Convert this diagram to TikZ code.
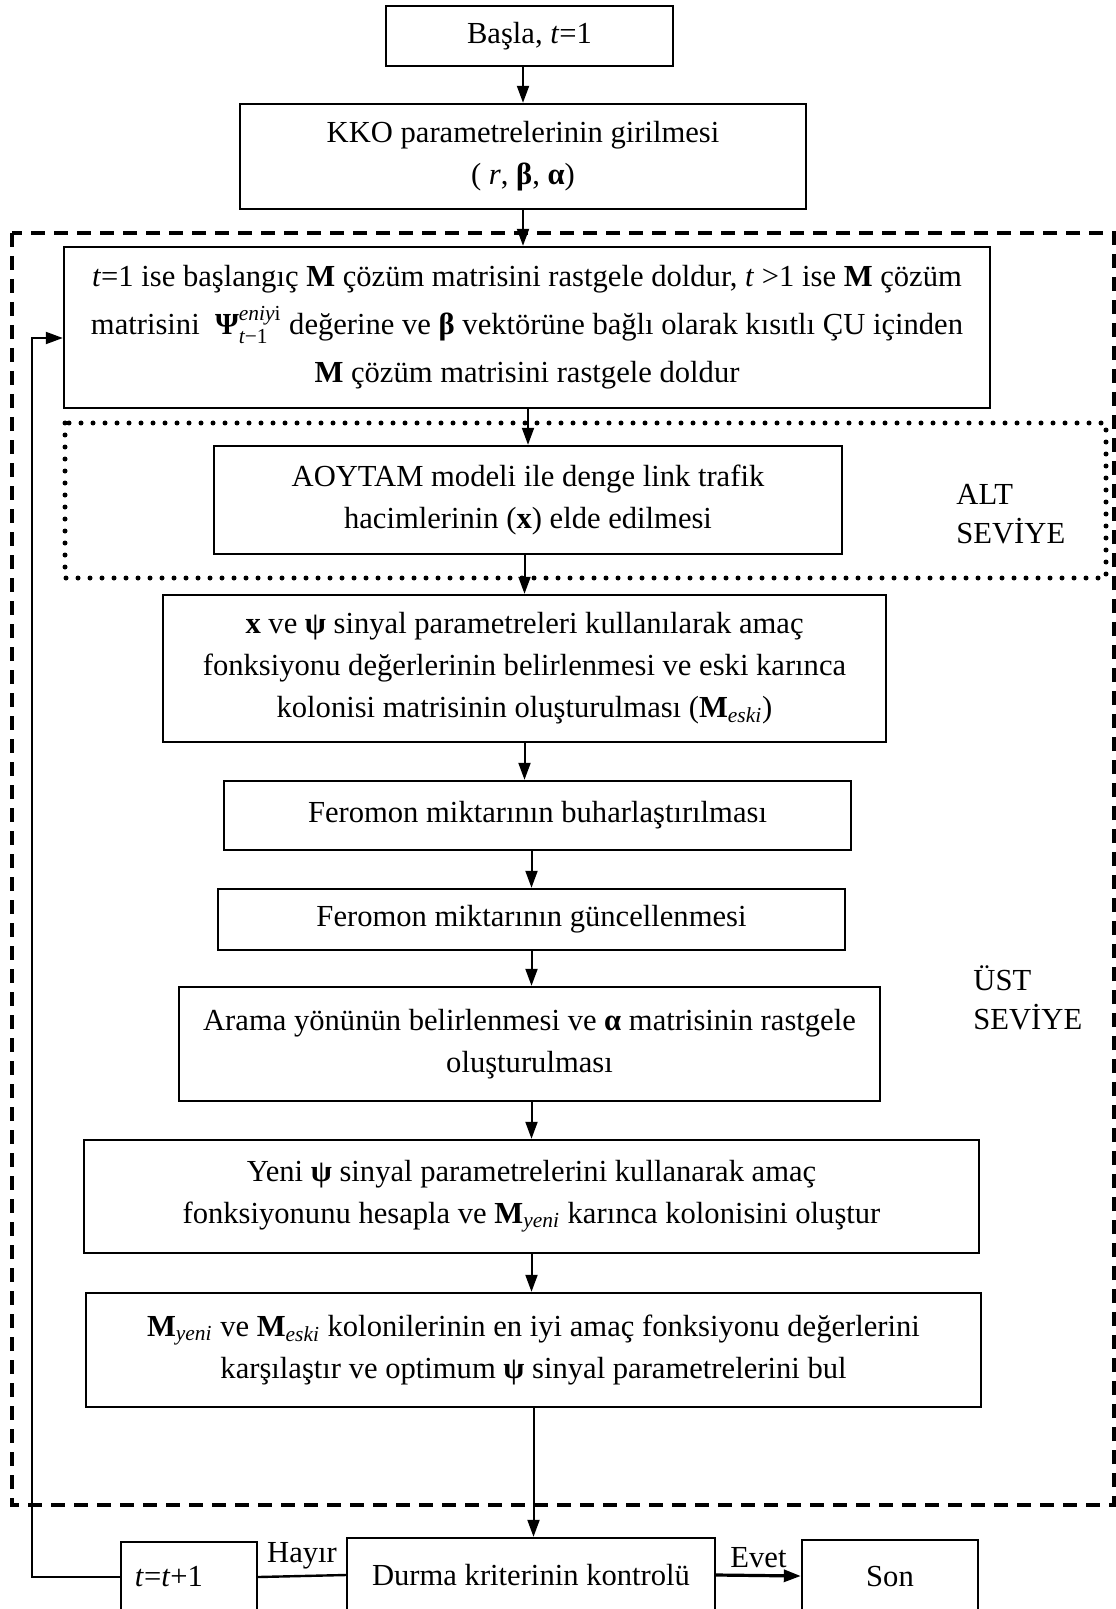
\documentclass[tikz,border=0pt]{standalone}
\usepackage{fontspec}
\usepackage{amsmath}
\setmainfont{Liberation Serif}
\usetikzlibrary{arrows.meta}
\newcommand\fs{\fontsize{15.3}{21}\selectfont}
\begin{document}
\begin{tikzpicture}[x=0.5pt,y=-0.5pt,
  box/.style={draw, line width=1.2pt, inner sep=0pt, align=center, font=\fs},
  arr/.style={line width=1pt, -{Triangle[length=8.5pt,width=6pt]}},
  lvl/.style={anchor=west, align=left, inner sep=0pt, font=\fontsize{15.3}{19.5}\selectfont}]
\useasboundingbox (0,0) rectangle (1115,1609);
% region boxes
\draw[line width=2pt, dash pattern=on 7pt off 4.5pt] (12,233) rectangle (1114,1505);
\draw[line width=2.5pt, line cap=round, dash pattern=on 0pt off 6pt] (65,423) rectangle (1106,578);
% nodes
\node[box, minimum width=143.5pt, minimum height=30pt] (basla) at (529.5,36) {Başla, \textit{t}=1};
\node[box, minimum width=283pt, minimum height=52.5pt] (kko) at (523,156.5) {KKO parametrelerinin girilmesi\\( \textit{r}, \textbf{β}, \textbf{α})};
\node[box, minimum width=463pt, minimum height=80.5pt, font=\fontsize{15.3}{24}\selectfont] (s1) at (527,327.5) {\textit{t}=1 ise başlangıç \textbf{M} çözüm matrisini rastgele doldur, \textit{t} >1 ise \textbf{M} çözüm\\ matrisini \ {\bfseries Ψ}$^{\text{\itshape eniy\upshape i}}_{\text{\itshape t\upshape −1}}$ değerine ve \textbf{β} vektörüne bağlı olarak kısıtlı ÇU içinden\\ \textbf{M} çözüm matrisini rastgele doldur};
\node[box, minimum width=314pt, minimum height=54pt] (aoy) at (528,500) {AOYTAM modeli ile denge link trafik\\hacimlerinin (\textbf{x}) elde edilmesi};
\node[lvl] (alt) at (956,514) {ALT\\SEVİYE};
\node[box, minimum width=361.5pt, minimum height=73.5pt] (xpsi) at (524.5,668.5) {\textbf{x} ve \textbf{ψ} sinyal parametreleri kullanılarak amaç\\fonksiyonu değerlerinin belirlenmesi ve eski karınca\\kolonisi matrisinin oluşturulması (\textbf{M}\textsubscript{\itshape eski})};
\node[box, minimum width=313.5pt, minimum height=34.5pt] (ferb) at (537.5,815.5) {Feromon miktarının buharlaştırılması};
\node[box, minimum width=313.5pt, minimum height=30.5pt] (ferg) at (531.5,919.5) {Feromon miktarının güncellenmesi};
\node[box, minimum width=350.5pt, minimum height=57pt] (arama) at (529.5,1044) {Arama yönünün belirlenmesi ve \textbf{α} matrisinin rastgele\\oluşturulması};
\node[lvl] (ust) at (973,998) {ÜST\\SEVİYE};
\node[box, minimum width=447.5pt, minimum height=56.5pt] (yeni) at (531.5,1196.5) {Yeni \textbf{ψ} sinyal parametrelerini kullanarak amaç\\fonksiyonunu hesapla ve \textbf{M}\textsubscript{\itshape yeni} karınca kolonisini oluştur};
\node[box, minimum width=447.5pt, minimum height=57pt] (myeni) at (533.5,1350) {\textbf{M}\textsubscript{\itshape yeni} ve \textbf{M}\textsubscript{\itshape eski} kolonilerinin en iyi amaç fonksiyonu değerlerini\\karşılaştır ve optimum \textbf{ψ} sinyal parametrelerini bul};
\node[box, minimum width=68pt, minimum height=35pt] (tt) at (189,1577) {\textit{t}=\textit{t}+1\hspace*{20pt}};
\node[box, minimum width=184pt, minimum height=37pt] (durma) at (531,1575) {Durma kriterinin kontrolü};
\node[box, minimum width=88pt, minimum height=36pt] (son) at (890,1576) {Son};
% connectors
\draw[arr] (basla.south -| kko.north) -- (kko.north);
\draw[arr] (kko.south) -- (kko.south |- s1.north);
\draw[arr] (aoy.north |- s1.south) -- (aoy.north);
\draw[arr] (xpsi.north |- aoy.south) -- (xpsi.north);
\draw[arr] (xpsi.south) -- (xpsi.south |- ferb.north);
\draw[arr] (ferg.north |- ferb.south) -- (ferg.north);
\draw[arr] (ferg.south) -- (ferg.south |- arama.north);
\draw[arr] (yeni.north |- arama.south) -- (yeni.north);
\draw[arr] (yeni.south) -- (yeni.south |- myeni.north);
\draw[arr] (myeni.south) -- (myeni.south |- durma.north);
\draw[line width=1.2pt] (durma.west) -- node[above, font=\fs, inner sep=3pt] (hayir) {Hayır} (tt.east);
\draw[line width=1.6pt, -{Triangle[length=8.5pt,width=6pt]}] (durma.east) -- node[above, font=\fs, inner sep=3pt] (evet) {Evet} (son.west);
\coordinate (fb) at (32,338);
\draw[arr] (tt.west) -| (fb) -- (fb -| s1.west);
\end{tikzpicture}
\end{document}
